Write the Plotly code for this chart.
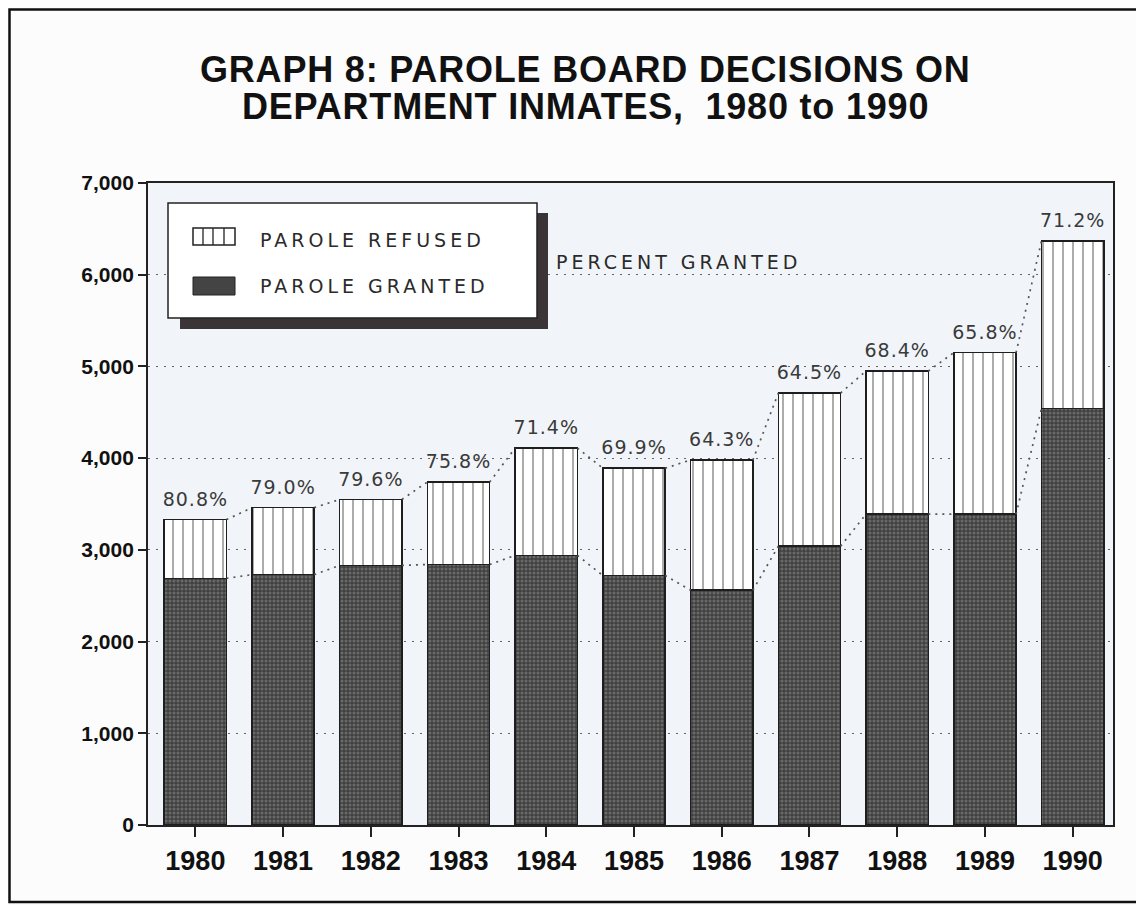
import plotly.graph_objects as go

# ---------------- data ----------------
years = [1980, 1981, 1982, 1983, 1984, 1985, 1986, 1987, 1988, 1989, 1990]
granted = [2690, 2730, 2830, 2840, 2940, 2720, 2560, 3040, 3390, 3390, 4540]
refused = [640, 730, 720, 900, 1170, 1170, 1420, 1670, 1560, 1760, 1830]
pct_granted = [80.8, 79.0, 79.6, 75.8, 71.4, 69.9, 64.3, 64.5, 68.4, 65.8, 71.2]
y_ticks = [0, 1000, 2000, 3000, 4000, 5000, 6000, 7000]

totals = [g + r for g, r in zip(granted, refused)]

# ---------------- layout geometry (pixels, reference screen coords) ----------------
PAGE_OFF = 8                      # default body margin of the html page
W, H = 1144 - PAGE_OFF, 905 - PAGE_OFF
L, R, T, B = 148, 1113, 183, 825  # plot area edges on screen
BAR_W = 0.71


def px_x(px):
    return (px - L) / (R - L)


def px_y(py):
    return (B - py) / (B - T)


def spaced(s, sp):
    return f'<span style="letter-spacing:{sp}px">{s}</span>'


fig = go.Figure()

# granted (dark mottled)
fig.add_trace(go.Bar(
    x=years, y=granted, width=BAR_W, name="PAROLE GRANTED",
    marker=dict(
        color="#474747",
        line=dict(color="#1e1e1e", width=1.5),
        pattern=dict(shape=".", bgcolor="#404040", fgcolor="#939393",
                     size=4, solidity=0.45),
    ),
    showlegend=False,
))
# refused (vertical lines)
fig.add_trace(go.Bar(
    x=years, y=refused, width=BAR_W, name="PAROLE REFUSED",
    marker=dict(
        color="white",
        line=dict(color="#1e1e1e", width=1.5),
        pattern=dict(shape="|", bgcolor="white", fgcolor="#222222",
                     size=10, solidity=0.15),
    ),
    showlegend=False,
))


# dotted connectors between neighbouring bar tops
def connectors(tops):
    xs, ys = [], []
    for i in range(len(years) - 1):
        xs += [years[i] + BAR_W / 2, years[i + 1] - BAR_W / 2, None]
        ys += [tops[i], tops[i + 1], None]
    return xs, ys


for tops in (totals, granted):
    cx, cy = connectors(tops)
    fig.add_trace(go.Scatter(
        x=cx, y=cy, mode="lines", hoverinfo="skip", showlegend=False,
        line=dict(color="#555555", width=1.7, dash="2px,5px"),
    ))

# percent labels above bars (transparent marker pushes text up a little)
fig.add_trace(go.Scatter(
    x=years, y=totals, mode="markers+text", showlegend=False,
    hoverinfo="skip",
    marker=dict(size=13, color="rgba(0,0,0,0)"),
    text=[spaced(f"{p:.1f}%", 1) for p in pct_granted],
    textposition="top center",
    textfont=dict(family="DejaVu Sans", size=19, color="#3a3a3a"),
))

shapes = []
annotations = []

# outer frame
shapes.append(dict(type="rect", xref="paper", yref="paper",
                   x0=px_x(9.5), x1=px_x(1170), y0=px_y(902), y1=px_y(9.5),
                   line=dict(color="#111111", width=2.5), layer="below"))

# legend box with shadow
shapes.append(dict(type="rect", xref="paper", yref="paper",
                   x0=px_x(180), x1=px_x(548), y0=px_y(329), y1=px_y(213),
                   fillcolor="#3b3436", line=dict(width=0), layer="above"))
shapes.append(dict(type="rect", xref="paper", yref="paper",
                   x0=px_x(168), x1=px_x(537), y0=px_y(318), y1=px_y(203),
                   fillcolor="white", line=dict(color="#222222", width=1.5),
                   layer="above"))
# refused swatch
shapes.append(dict(type="rect", xref="paper", yref="paper",
                   x0=px_x(193), x1=px_x(235), y0=px_y(245), y1=px_y(228),
                   fillcolor="white", line=dict(color="#222222", width=1.5),
                   layer="above"))
for lx in (203, 213, 224):
    shapes.append(dict(type="line", xref="paper", yref="paper",
                       x0=px_x(lx), x1=px_x(lx), y0=px_y(245), y1=px_y(228),
                       line=dict(color="#222222", width=1.3), layer="above"))
# granted swatch
shapes.append(dict(type="rect", xref="paper", yref="paper",
                   x0=px_x(193), x1=px_x(235), y0=px_y(295), y1=px_y(277),
                   fillcolor="#444444", line=dict(color="#222222", width=1),
                   layer="above"))

legend_font = dict(family="DejaVu Sans", size=19, color="#2a2a2a")
annotations.append(dict(xref="paper", yref="paper", x=px_x(258), y=px_y(240),
                        text=spaced("PAROLE REFUSED", 4), showarrow=False,
                        xanchor="left", yanchor="middle", font=legend_font))
annotations.append(dict(xref="paper", yref="paper", x=px_x(258), y=px_y(286),
                        text=spaced("PAROLE GRANTED", 4), showarrow=False,
                        xanchor="left", yanchor="middle", font=legend_font))
annotations.append(dict(xref="paper", yref="paper", x=px_x(554), y=px_y(262),
                        text=spaced("PERCENT GRANTED", 4), showarrow=False,
                        xanchor="left", yanchor="middle", font=legend_font))

# title
title_font = dict(family="Liberation Sans", size=36, color="#111111",
                  weight="bold")
annotations.append(dict(xref="paper", yref="paper", x=px_x(585), y=px_y(69),
                        text=spaced("GRAPH 8: PAROLE BOARD DECISIONS ON", 0.8),
                        showarrow=False, xanchor="center", yanchor="middle",
                        font=title_font))
annotations.append(dict(xref="paper", yref="paper", x=px_x(585), y=px_y(107),
                        text=spaced("DEPARTMENT INMATES,  1980 to 1990", 0.8),
                        showarrow=False, xanchor="center", yanchor="middle",
                        font=title_font))

xtick_font = dict(family="Liberation Sans", size=27, color="#111111",
                  weight="bold")
ytick_font = dict(family="Liberation Sans", size=21, color="#111111",
                  weight="bold")

fig.update_layout(
    width=W, height=H,
    margin=dict(l=L - PAGE_OFF, r=W - (R - PAGE_OFF), t=T - PAGE_OFF,
                b=H - (B - PAGE_OFF)),
    barmode="stack",
    paper_bgcolor="#fcfcfc",
    plot_bgcolor="#f1f5f9",
    shapes=shapes,
    annotations=annotations,
    xaxis=dict(
        range=[1979.46, 1990.46],
        tickvals=years, ticktext=[str(y) for y in years],
        ticks="outside", ticklen=10, tickwidth=1.5, tickcolor="#222222",
        showline=True, linecolor="#222222", linewidth=1.8, mirror=True,
        showgrid=False, zeroline=False,
        tickfont=xtick_font, ticklabelstandoff=1,
    ),
    yaxis=dict(
        range=[0, 7000],
        tickvals=y_ticks, tickformat=",",
        ticks="outside", ticklen=8, tickwidth=1.5, tickcolor="#222222",
        showline=True, linecolor="#222222", linewidth=1.8, mirror=True,
        showgrid=True, gridcolor="#666666", gridwidth=1.4, griddash="2px,6px",
        zeroline=False,
        tickfont=ytick_font,
    ),
)

fig.write_html("out.html")
